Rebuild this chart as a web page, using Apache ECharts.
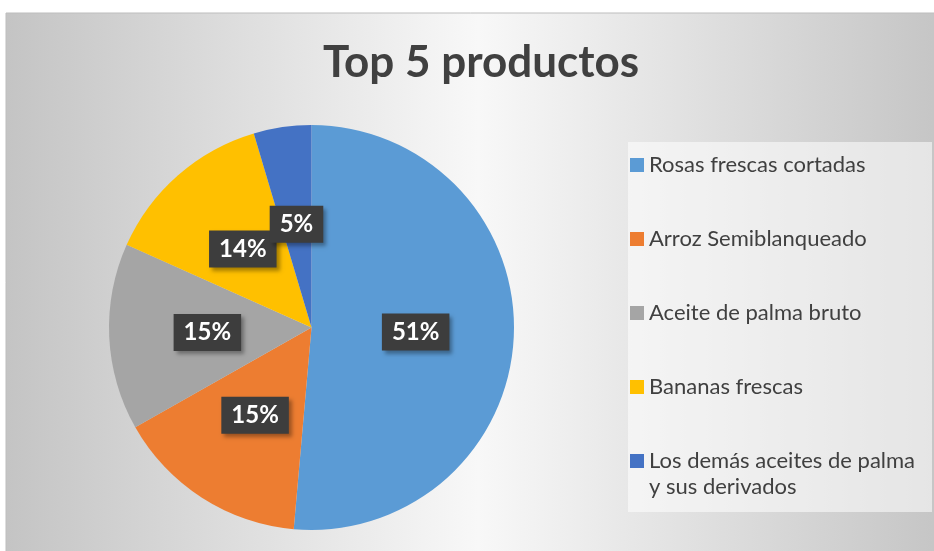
<!DOCTYPE html>
<html>
<head>
<meta charset="utf-8">
<script src="https://cdn.jsdelivr.net/npm/echarts@6/dist/echarts.min.js"></script>
<style>
  html, body { margin: 0; padding: 0; background: #fff; }
  #chart { width: 934px; height: 551px; }
</style>
</head>
<body>
<div id="chart"></div>
<script>
// productos y su participación (%)
const productos = [
  'Rosas frescas cortadas',
  'Arroz Semiblanqueado',
  'Aceite de palma bruto',
  'Bananas frescas',
  'Los demás aceites de palma\ny sus derivados'
]
const valores = [51.4, 15.4, 14.9, 13.7, 4.6]
const colores = ['#5B9BD5', '#ED7D31', '#A5A5A5', '#FFC000', '#4472C4']

const chart = echarts.init(document.getElementById('chart'))

const seriesData = productos.map((name, i) => ({
  name: name,
  value: valores[i],
  itemStyle: { color: colores[i] }
}))

// una leyenda por elemento para fijar su posición vertical
const legends = productos.map((name, i) => {
  const multiline = name.indexOf('\n') >= 0
  const iconCenter = 165 + i * 74
  return {
    data: [name],
    orient: 'vertical',
    left: 630,
    // texto de dos líneas: línea vacía arriba para que la primera quede junto al icono
    top: multiline ? iconCenter - 39 : iconCenter - 13,
    formatter: n => (multiline ? '\n' + n : n),
    padding: 0,
    icon: 'rect',
    itemWidth: 14,
    itemHeight: 14,
    itemGap: 0,
    selectedMode: false,
    textStyle: {
      fontFamily: 'Lato',
      fontSize: 22,
      color: '#404040',
      lineHeight: 26
    }
  }
})

chart.setOption({
  backgroundColor: '#ffffff',
  graphic: [
    {
      type: 'rect',
      z: -10,
      shape: { x: 6, y: 13, width: 944, height: 548 },
      style: {
        fill: new echarts.graphic.LinearGradient(0, 0, 1, 0, [
          { offset: 0, color: '#c4c4c4' },
          { offset: 0.5, color: '#f8f8f8' },
          { offset: 1, color: '#c4c4c4' }
        ]),
        stroke: '#bdbdbd',
        lineWidth: 1
      }
    },
    {
      type: 'rect',
      z: -9,
      shape: { x: 628, y: 142, width: 304, height: 370 },
      style: { fill: 'rgba(255,255,255,0.55)' }
    }
  ],
  title: {
    text: 'Top 5 productos',
    left: 476,
    top: 36,
    textAlign: 'center',
    textStyle: {
      fontFamily: 'Lato',
      fontWeight: 'bold',
      fontSize: 44,
      color: '#404040'
    }
  },
  legend: legends,
  series: [
    {
      name: 'Top 5 productos',
      type: 'pie',
      center: [311.5, 327.5],
      radius: [0, 202.5],
      startAngle: 90,
      clockwise: true,
      silent: true,
      avoidLabelOverlap: false,
      labelLayout: { hideOverlap: false },
      label: {
        position: 'inside',
        formatter: p => Math.round(p.percent) + '%',
        fontFamily: 'Lato',
        fontWeight: 'bold',
        fontSize: 24,
        color: '#ffffff',
        backgroundColor: '#3d3d3d',
        padding: [7, 10, 6, 10],
        shadowColor: 'rgba(0,0,0,0.35)',
        shadowBlur: 4,
        shadowOffsetX: 3,
        shadowOffsetY: 3
      },
      labelLine: { show: false },
      itemStyle: { borderWidth: 0 },
      data: seriesData
    }
  ]
})
</script>
</body>
</html>
